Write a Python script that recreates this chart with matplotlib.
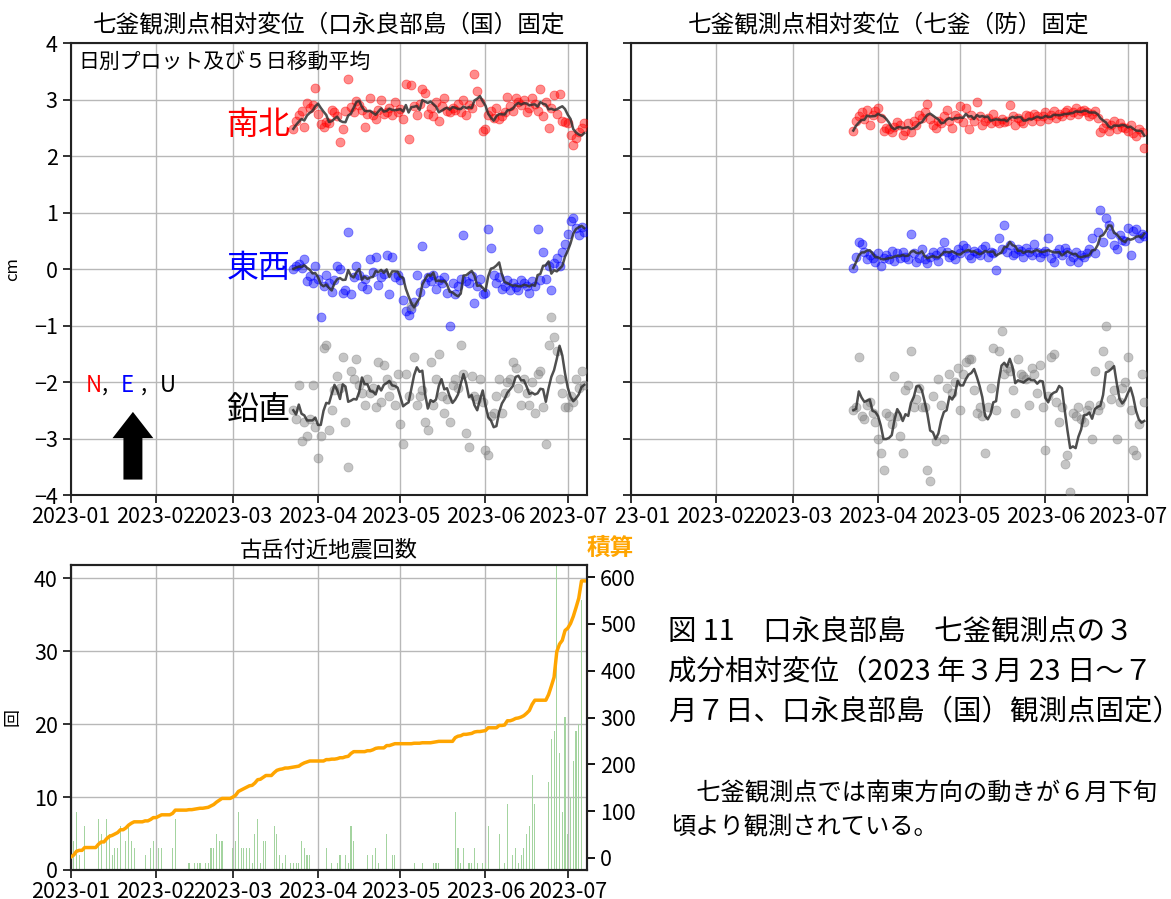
import numpy as np
import pandas as pd
import matplotlib
matplotlib.use('Agg')
import matplotlib.pyplot as plt
import matplotlib.dates as mdates
from matplotlib.transforms import Bbox, TransformedBbox

plt.rcParams['font.family'] = ['Noto Sans CJK JP', 'DejaVu Sans']
plt.rcParams['axes.unicode_minus'] = True

W, H = 1171, 899

# 日別の相対変位 [cm]  2023-03-23 ～ 2023-07-07
days = pd.date_range('2023-03-23', '2023-07-07', freq='D')

# 口永良部島（国）固定
ns_kuni = [
    2.48, 2.62, 2.72, 2.80, 2.52, 2.93, 2.85, 2.90, 3.20,
    2.75, 2.56, 2.52, 2.60, 2.58, 2.82, 2.78, 2.70, 2.24, 2.47,
    2.80, 3.37, 2.86, 2.78, 2.98, 2.90, 2.82, 2.52, 2.74, 3.02,
    2.72, 2.65, 2.82, 3.00, 2.74, 2.78, 2.85, 2.72, 2.96, 2.78,
    2.84, 2.65, 3.28, 2.30, 3.25, 2.88, 2.72, 2.92, 3.18, 3.12,
    2.75, 2.85, 2.70, 2.95, 2.62, 2.88, 3.02, 2.80, 2.78, 2.85,
    2.82, 2.92, 2.78, 3.00, 2.72, 2.90, 2.85, 3.45, 3.15, 2.95,
    2.44,
    2.48, 2.72, 2.80, 2.68, 2.85, 2.66, 2.70, 2.78, 3.05, 2.88,
    2.80, 3.02, 2.95, 2.90, 3.00, 2.78, 2.85, 3.02, 2.92, 2.80,
    3.18, 2.70, 2.95, 2.50, 2.85, 3.08, 2.75, 3.10, 2.62, 2.60,
    2.58, 2.38, 2.20, 2.32, 2.42, 2.50, 2.58,
]
ew_kuni = [
    0.00, 0.05, 0.08, 0.02, 0.18, -0.22, -0.12, -0.25, 0.05,
    -0.18, -0.85, -0.30, -0.10, -0.25, -0.40, -0.20, 0.05, 0.00, -0.42,
    -0.38, 0.65, -0.45, -0.15, 0.05, -0.10, -0.30, -0.18, -0.35, 0.18,
    -0.05, 0.22, -0.28, -0.15, -0.08, 0.25, -0.45, 0.22, -0.15, -0.10,
    -0.20, -0.55, -0.75, -0.82, -0.70, -0.58, -0.10, -0.40, 0.40, -0.25,
    -0.15, -0.22, -0.10, -0.35, -0.20, -0.25, -0.15, -0.42, -1.00, -0.25,
    -0.45, -0.30, -0.18, 0.60, -0.22, -0.25, -0.12, -0.60, -0.30, -0.18,
    -0.45,
    -0.42, 0.70, 0.38, -0.10, -0.25, -0.15, -0.35, -0.30, -0.20, -0.38,
    -0.25, -0.32, -0.38, -0.20, -0.25, -0.30, -0.42, -0.22, -0.30, 0.70,
    -0.20, 0.30, -0.18, 0.05, -0.38, 0.10, 0.20, 0.05, 0.30, 0.45,
    0.62, 0.85, 0.90, 0.72, 0.60, 0.75, 0.65,
]
ud_kuni = [
    -2.50, -2.65, -2.05, -3.05, -2.70, -2.95, -2.65, -2.05, -2.80,
    -3.35, -2.95, -1.40, -1.35, -2.85, -2.50, -2.15, -1.90, -2.10, -1.55,
    -2.70, -3.50, -1.80, -1.95, -1.60, -2.05, -2.20, -2.40, -1.95, -2.20,
    -2.10, -2.45, -1.65, -2.35, -1.70, -1.95, -2.25, -2.05, -2.40, -1.85,
    -2.75, -3.10, -1.85, -2.25, -0.65, -1.55, -2.40, -2.25, -2.15, -2.70,
    -2.85, -1.65, -2.40, -1.95, -1.50, -2.25, -2.55, -2.30, -2.70, -2.05,
    -1.95, -2.10, -1.35, -1.85, -2.90, -3.15, -1.90, -2.25, -2.30, -1.95,
    -2.35,
    -3.20, -3.30, -2.60, -2.55, -2.25, -1.95, -2.55, -2.20, -2.00, -1.95,
    -1.65, -1.75, -2.10, -2.40, -1.95, -2.20, -2.40, -2.00, -2.55, -1.85,
    -1.80, -2.45, -3.10, -1.35, -0.85, -1.20, -1.45, -1.95, -2.20, -2.45,
    -2.45, -2.25, -2.35, -1.95, -2.10, -1.80, -2.05,
]

# 七釜（防）固定
ns_bou = [
    2.45, 2.62, 2.70, 2.78, 2.65, 2.82, 2.55, 2.72, 2.80,
    2.85, 2.68, 2.45, 2.50, 2.48, 2.42, 2.52, 2.60, 2.55, 2.38,
    2.45, 2.58, 2.42, 2.62, 2.55, 2.72, 2.68, 2.78, 2.92, 2.65,
    2.55, 2.50, 2.62, 2.58, 2.70, 2.82, 2.62, 2.50, 2.72, 2.68,
    2.88, 2.60, 2.85, 2.48, 2.72, 2.62, 2.95, 2.70, 2.55, 2.62,
    2.68, 2.58, 2.75, 2.62, 2.58, 2.65, 2.60, 2.62, 2.90, 2.70,
    2.55, 2.68, 2.62, 2.58, 2.72, 2.70, 2.62, 2.75, 2.70, 2.62,
    2.70,
    2.78, 2.65, 2.72, 2.80, 2.68, 2.75, 2.70, 2.78, 2.82, 2.72,
    2.78, 2.85, 2.75, 2.80, 2.82, 2.78, 2.70, 2.75, 2.80, 2.68,
    2.42, 2.50, 2.58, 2.45, 2.55, 2.62, 2.48, 2.58, 2.52, 2.50,
    2.45, 2.55, 2.40, 2.35, 2.48, 2.42, 2.15,
]
ew_bou = [
    0.02, 0.22, 0.48, 0.45, 0.30, 0.18, 0.25, 0.20, 0.12,
    0.28, 0.05, 0.20, 0.25, 0.18, 0.32, 0.15, 0.28, 0.20, 0.30,
    0.22, 0.18, 0.62, 0.28, 0.12, 0.20, 0.35, 0.18, 0.10, 0.22,
    0.30, 0.25, 0.15, 0.32, 0.48, 0.30, 0.22, 0.25, 0.18, 0.35,
    0.28, 0.42, 0.38, 0.25, 0.20, 0.32, 0.28, 0.25, 0.35, 0.40,
    0.22, 0.30, 0.28, -0.02, 0.55, 0.35, 0.78, 0.30, 0.42, 0.25,
    0.28, 0.35, 0.32, 0.22, 0.38, 0.30, 0.25, 0.45, 0.30, 0.22,
    0.28,
    0.32, 0.55, 0.20, 0.12, 0.28, 0.35, 0.25, 0.38, 0.30, 0.15,
    0.22, 0.30, 0.12, 0.25, 0.22, 0.28, 0.35, 0.55, 0.28, 0.65,
    1.05, 0.48, 0.90, 0.78, 0.62, 0.42, 0.35, 0.60, 0.52, 0.50,
    0.72, 0.25, 0.68, 0.70, 0.55, 0.62, 0.58,
]
ud_bou = [
    -2.50, -2.45, -1.55, -2.60, -2.65, -2.40, -2.35, -2.55, -2.70,
    -3.00, -3.25, -3.55, -2.55, -2.60, -2.75, -1.90, -2.60, -2.95, -3.25,
    -2.15, -2.05, -1.45, -2.45, -2.30, -2.10, -2.45, -2.45, -3.55, -3.75,
    -2.25, -3.05, -1.95, -2.40, -3.00, -2.10, -1.85, -2.20, -2.00, -1.75,
    -2.50, -1.85, -1.65, -1.60, -1.60, -2.15, -2.55, -2.45, -2.60, -3.25,
    -2.45, -2.10, -1.40, -2.50, -1.45, -1.10, -1.85, -1.75, -1.80, -2.15,
    -2.55, -1.60, -1.85, -1.90, -1.95, -2.40, -1.75, -1.85, -2.20, -1.70,
    -2.45,
    -3.20, -2.25, -1.55, -1.50, -2.35, -2.70, -2.45, -3.45, -3.30, -3.95,
    -2.55, -2.60, -2.45, -2.65, -2.70, -2.50, -2.40, -3.00, -1.80, -2.50,
    -2.40, -1.45, -1.00, -1.70, -2.30, -2.15, -3.00, -2.35, -2.10, -2.00,
    -1.55, -2.50, -3.20, -3.30, -2.75, -1.85, -2.35,
]

# 古岳付近の日別地震回数  2023-01-01 ～ 2023-07-07
quake_days = pd.date_range('2023-01-01', '2023-07-07', freq='D')
cnt_jan = [2, 4, 8, 2, 0, 6, 0, 0, 0, 0, 7, 5, 0, 7, 5, 2, 3, 3, 6, 0,
           4, 6, 4, 3, 0, 0, 0, 2, 0, 3, 4]
cnt_feb = [0, 3, 3, 0, 0, 0, 3, 7, 0, 0, 0, 0, 1, 0, 1, 1, 1, 0, 1, 1,
           3, 3, 5, 4, 4, 0, 0, 0]
cnt_mar = [3, 4, 8, 3, 3, 3, 3, 1, 5, 7, 1, 4, 4, 0, 0, 6, 5, 2, 1, 2,
           0, 1, 1, 1, 1, 4, 3, 2, 2, 0, 0]
cnt_apr = [0, 0, 0, 3, 0, 1, 0, 1, 2, 0, 2, 1, 6, 4, 0, 0, 0, 0, 2, 0,
           2, 3, 1, 0, 0, 5, 0, 2, 2, 0]
cnt_may = [0, 0, 0, 0, 0, 1, 0, 0, 1, 0, 0, 0, 1, 1, 1, 0, 0, 0, 0, 0,
           8, 3, 1, 3, 0, 1, 1, 3, 1, 0, 1]
cnt_jun = [1, 6, 0, 0, 0, 5, 0, 1, 9, 0, 2, 3, 1, 2, 3, 5, 6, 13, 9, 0,
           0, 0, 0, 12, 18, 19, 55, 16, 8, 21]
cnt_jul = [5, 10, 15, 19, 20, 37, 0]
quake_counts = cnt_jan + cnt_feb + cnt_mar + cnt_apr + cnt_may + cnt_jun + cnt_jul

month_ticks = pd.date_range('2023-01-01', '2023-07-01', freq='MS')
x_range = (pd.Timestamp('2023-01-01'), pd.Timestamp('2023-07-08'))


def px(x, y):
    return x / W, 1 - y / H


def style_axis(ax):
    ax.set_xlim(*x_range)
    ax.set_xticks(month_ticks)
    ax.xaxis.set_major_formatter(mdates.DateFormatter('%Y-%m'))
    ax.grid(True, color='#b8b8b8', lw=1.0)
    ax.set_axisbelow(True)
    ax.tick_params(labelsize=15.5, length=6, width=1.3, color='#222222')
    ax.tick_params(axis='x', pad=2)
    for sp in ax.spines.values():
        sp.set_linewidth(1.5)
        sp.set_color('#222222')


def draw_components(ax, ns, ew, ud):
    for vals, col in ((ns, 'red'), (ew, 'blue'), (ud, 'gray')):
        ax.scatter(days, vals, s=42, color=col, alpha=0.45, linewidths=0.6, zorder=3)
        avg = pd.Series(vals, index=days).rolling(5, min_periods=1).mean()
        ax.plot(days, avg.values, color='#303030', lw=1.8, alpha=0.85, zorder=4)


fig = plt.figure(figsize=(W / 100, H / 100), dpi=100)
ax_a = fig.add_axes([71 / W, 1 - 495 / H, 516 / W, 452 / H])
ax_b = fig.add_axes([631 / W, 1 - 495 / H, 516 / W, 452 / H], sharey=ax_a)
ax_c = fig.add_axes([71 / W, 1 - 870 / H, 516 / W, 305 / H])

# 上段：3成分相対変位
for ax, (ns, ew, ud), title in (
        (ax_a, (ns_kuni, ew_kuni, ud_kuni), '七釜観測点相対変位（口永良部島（国）固定'),
        (ax_b, (ns_bou, ew_bou, ud_bou), '七釜観測点相対変位（七釜（防）固定')):
    style_axis(ax)
    draw_components(ax, ns, ew, ud)
    ax.set_title(title, fontsize=17, pad=8)

ax_a.set_ylim(-4, 4)
ax_a.set_yticks(range(-4, 5))
ax_a.set_ylabel('cm', fontsize=12)
ax_a.yaxis.set_label_coords(-0.097, 0.5)
ax_b.tick_params(labelleft=False)

ax_a.text(0.014, 0.958, '日別プロット及び５日移動平均', transform=ax_a.transAxes,
          fontsize=15, ha='left', va='center')

label_x = pd.Timestamp('2023-03-22')
ax_a.text(label_x, 2.55, '南北', color='red', fontsize=23, ha='right', va='center')
ax_a.text(label_x, 0.02, '東西', color='blue', fontsize=23, ha='right', va='center')
ax_a.text(label_x, -2.5, '鉛直', color='black', fontsize=23, ha='right', va='center')

# 正の向き N, E, U
for x, s, c in ((86, 'N', 'red'), (102, ',', 'black'), (121, 'E', 'blue'),
                (141, ',', 'black'), (160, 'U', 'black')):
    fig.text(*px(x, 385), s, color=c, fontsize=16, ha='left', va='center')
ax_a.annotate('', xy=(0.120, 0.19), xytext=(0.120, 0.028),
              xycoords='axes fraction', textcoords='axes fraction',
              arrowprops=dict(arrowstyle='simple,head_length=0.9,head_width=1.4,tail_width=0.65',
                              mutation_scale=21, color='black', lw=0))

# 下段：地震回数と積算
style_axis(ax_c)
ax_c.bar(quake_days, quake_counts, width=0.4, color='#a4d4a0', zorder=2)
ax_c.set_ylim(0, 41.8)
ax_c.set_yticks([0, 10, 20, 30, 40])
ax_c.set_ylabel('回', fontsize=13)
ax_c.yaxis.set_label_coords(-0.095, 0.5)
ax_c.set_title('古岳付近地震回数', fontsize=16, pad=6)

ax_cum = ax_c.twinx()
ax_cum.plot(quake_days, np.cumsum(quake_counts), color='orange', lw=2.5, zorder=5)
ax_cum.set_ylim(-26, 626)
ax_cum.set_yticks(range(0, 601, 100))
ax_cum.tick_params(labelsize=15.5, length=6, width=1.3)
for sp in ax_cum.spines.values():
    sp.set_linewidth(1.5)
    sp.set_color('#222222')
fig.text(*px(610, 548), '積算', color='orange', fontsize=17, fontweight='bold',
         ha='center', va='center')

# 図の説明
caption = ['図 11　口永良部島　七釜観測点の３',
           '成分相対変位（2023 年３月 23 日～７',
           '月７日、口永良部島（国）観測点固定）']
for i, line in enumerate(caption):
    fig.text(*px(668, 633 + 39.5 * i), line, fontsize=20.5, ha='left', va='center')
fig.text(*px(672, 793), '　七釜観測点では南東方向の動きが６月下旬', fontsize=17.5,
         ha='left', va='center')
fig.text(*px(672, 827), '頃より観測されている。', fontsize=17.5, ha='left', va='center')

# 右パネル先頭の目盛ラベルは左端で切る
fig.canvas.draw()
first = ax_b.get_xticklabels()[0]
first.set_clip_box(TransformedBbox(Bbox([[616 / W, 0], [1, 1]]), fig.transFigure))
first.set_clip_on(True)

fig.savefig('out.png', dpi=100)
